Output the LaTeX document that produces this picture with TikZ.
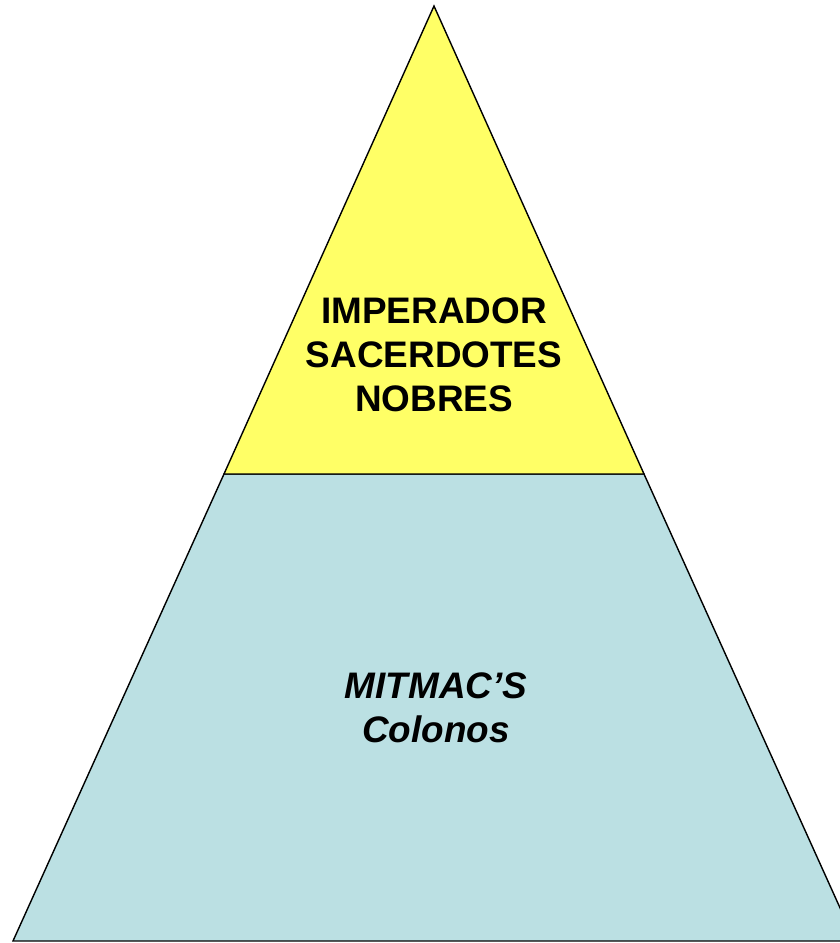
\documentclass[tikz,border=0pt]{standalone}
\usepackage{fontspec}
\setmainfont{Liberation Sans}
\usetikzlibrary{positioning}
\definecolor{topfill}{HTML}{FFFF66}
\definecolor{basefill}{HTML}{BBE0E3}

\begin{document}
\begin{tikzpicture}[font=\bfseries\fontsize{10.5}{12.6}\selectfont,
                    level/.style={draw=black, line width=0.4pt},
                    caption/.style={align=center, inner sep=0pt}]
    \useasboundingbox (0,0) rectangle (8.40,9.43);
    \clip (0,0) rectangle (8.40,9.43);
    \coordinate (apex)      at (4.34,9.37);
    \coordinate (midleft)   at (2.24,4.69);
    \coordinate (midright)  at (6.44,4.69);
    \coordinate (baseleft)  at (0.13,0.02);
    \coordinate (baseright) at (8.55,0.02);

    \filldraw[level, fill=basefill] (midleft) -- (midright) -- (baseright) -- (baseleft) -- cycle;
    \filldraw[level, fill=topfill]  (apex) -- (midright) -- (midleft) -- cycle;

    \node (elite)  [caption] at (4.34,5.88) {IMPERADOR\\SACERDOTES\\NOBRES};
    \node (people) [caption, font=\bfseries\itshape\fontsize{10.5}{12.6}\selectfont]
                   at (4.36,2.35) {MITMAC’S\\Colonos};
\end{tikzpicture}
\end{document}
